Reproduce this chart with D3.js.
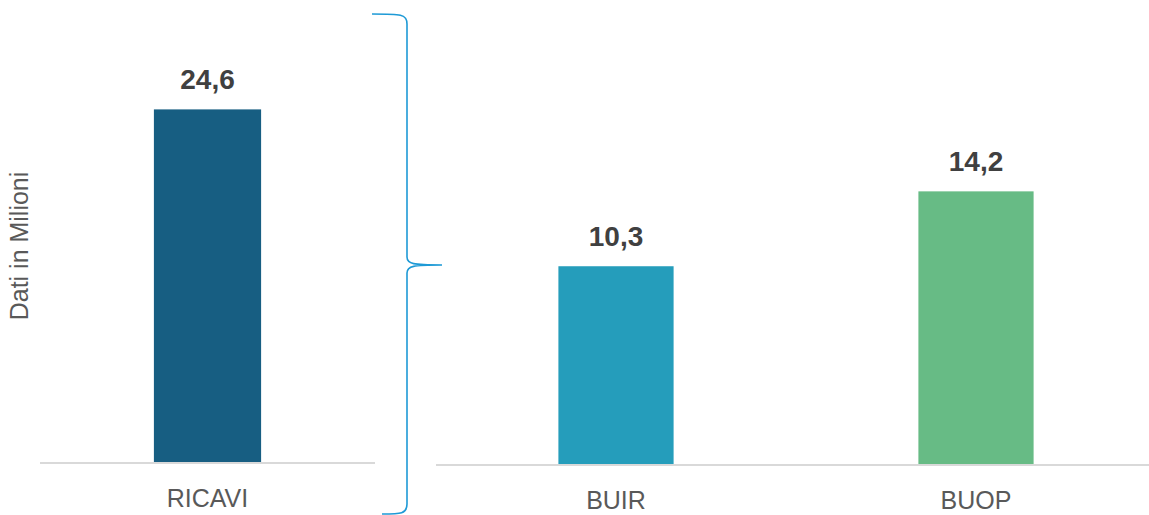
<!DOCTYPE html>
<html>
<head>
<meta charset="utf-8">
<script src="https://cdn.jsdelivr.net/npm/d3@7"></script>
<style>
  body { margin: 0; background: #fff; }
  svg { display: block; font-family: "Liberation Sans", Arial, sans-serif; }
</style>
</head>
<body>
<div id="chart"></div>
<script>
const w = 1149;
const h = 515;

// left panel: ricavi
const leftCats = ["RICAVI"];
const leftValues = [24.6];
const leftLabels = ["24,6"];
const leftColors = ["#175e82"];

// right panel: buir / buop
const rightCats = ["BUIR", "BUOP"];
const rightValues = [10.3, 14.2];
const rightLabels = ["10,3", "14,2"];
const rightColors = ["#259dbb", "#67bb85"];

const svg = d3.select("#chart").append("svg").attr("width", w).attr("height", h);

//Draw one panel of bars with its own scale
const drawPanel = (cats, values, labels, colors, xRange, yBase, yMax, yTop) => {
  const xScale = d3.scaleBand().domain(cats).range(xRange).paddingInner(0.68).paddingOuter(0.34);
  const yScale = d3.scaleLinear().domain([0, yMax]).range([yBase, yTop]);
  const data = cats.map((c, i) => ({ c, v: values[i], l: labels[i], col: colors[i] }));

  svg.append("line")
    .attr("x1", xRange[0]).attr("x2", xRange[1])
    .attr("y1", yBase + 1).attr("y2", yBase + 1)
    .attr("stroke", "#d9d9d9").attr("stroke-width", 2);

  const g = svg.append("g");
  g.selectAll("rect").data(data).enter().append("rect")
    .attr("x", (d) => xScale(d.c))
    .attr("y", (d) => yScale(d.v))
    .attr("width", xScale.bandwidth())
    .attr("height", (d) => yBase - yScale(d.v))
    .attr("fill", (d) => d.col);

  g.selectAll(".val").data(data).enter().append("text")
    .attr("class", "val")
    .attr("x", (d) => xScale(d.c) + xScale.bandwidth() / 2)
    .attr("y", (d) => yScale(d.v) - 20)
    .attr("text-anchor", "middle")
    .attr("font-size", 28).attr("font-weight", "bold")
    .attr("fill", "#404040")
    .text((d) => d.l);

  g.selectAll(".cat").data(data).enter().append("text")
    .attr("class", "cat")
    .attr("x", (d) => xScale(d.c) + xScale.bandwidth() / 2)
    .attr("y", yBase + 45)
    .attr("text-anchor", "middle")
    .attr("font-size", 25)
    .attr("fill", "#595959")
    .text((d) => d.c);
};

drawPanel(leftCats, leftValues, leftLabels, leftColors, [40, 375], 462, 30, 32);
drawPanel(rightCats, rightValues, rightLabels, rightColors, [436, 1156], 464, 20, 80);

// axis title
svg.append("text")
  .attr("transform", "translate(28,246) rotate(-90)")
  .attr("text-anchor", "middle")
  .attr("font-size", 25)
  .attr("font-weight", 300)
  .attr("fill", "#595959")
  .text("Dati in Milioni");

// curly brace between panels
const bx = 407, bTop = 14, bMid = 265, bBot = 514, r = 6;
const brace = `M372,${bTop} C${bx - 6},${bTop} ${bx},${bTop} ${bx},${bTop + r + 4}
  L${bx},${bMid - r - 2} C${bx},${bMid - 1} ${bx + 6},${bMid} 442,${bMid}
  M442,${bMid} C${bx + 6},${bMid} ${bx},${bMid + 1} ${bx},${bMid + r + 2}
  L${bx},${bBot - r - 4} C${bx},${bBot} ${bx - 6},${bBot} 382,${bBot}`;
svg.append("path").attr("d", brace)
  .attr("fill", "none").attr("stroke", "#1e9ad6").attr("stroke-width", 1.6);
</script>
</body>
</html>
